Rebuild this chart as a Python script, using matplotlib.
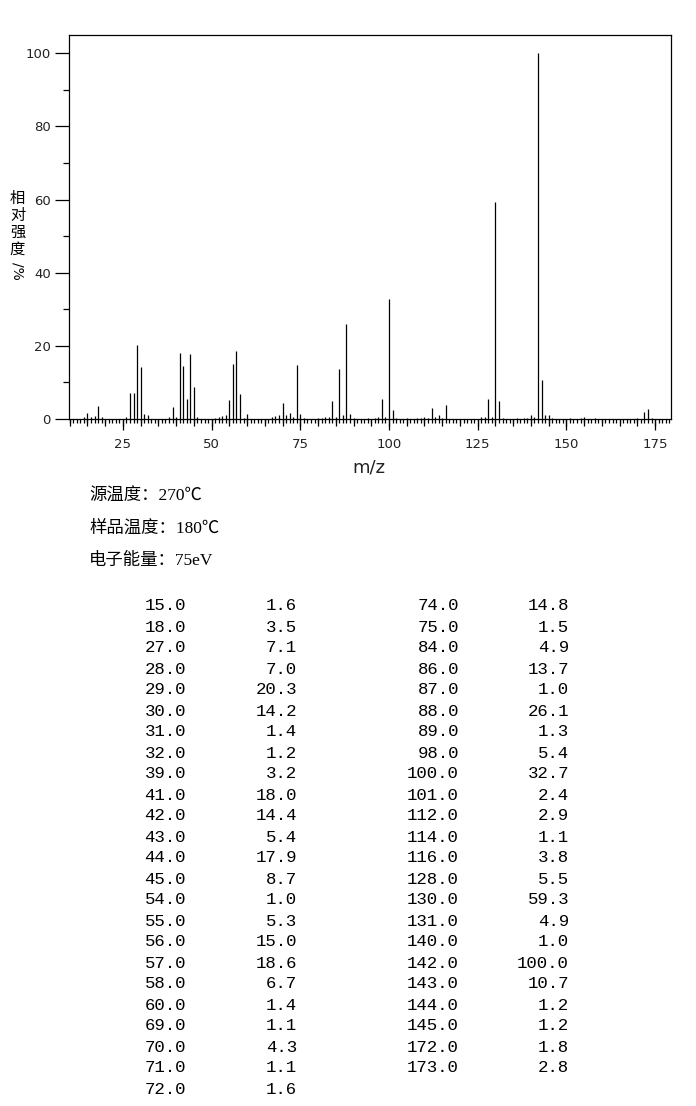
import matplotlib
matplotlib.use("Agg")
import matplotlib.pyplot as plt
from matplotlib.ticker import MultipleLocator, NullFormatter

# 표에 나온 피크 (m/z, 상대강도)
mz_left = [15.0, 18.0, 27.0, 28.0, 29.0, 30.0, 31.0, 32.0, 39.0, 41.0, 42.0, 43.0,
           44.0, 45.0, 54.0, 55.0, 56.0, 57.0, 58.0, 60.0, 69.0, 70.0, 71.0, 72.0]
int_left = [1.6, 3.5, 7.1, 7.0, 20.3, 14.2, 1.4, 1.2, 3.2, 18.0, 14.4, 5.4,
            17.9, 8.7, 1.0, 5.3, 15.0, 18.6, 6.7, 1.4, 1.1, 4.3, 1.1, 1.6]
mz_right = [74.0, 75.0, 84.0, 86.0, 87.0, 88.0, 89.0, 98.0, 100.0, 101.0, 112.0, 114.0,
            116.0, 128.0, 130.0, 131.0, 140.0, 142.0, 143.0, 144.0, 145.0, 172.0, 173.0]
int_right = [14.8, 1.5, 4.9, 13.7, 1.0, 26.1, 1.3, 5.4, 32.7, 2.4, 2.9, 1.1,
             3.8, 5.5, 59.3, 4.9, 1.0, 100.0, 10.7, 1.2, 1.2, 1.8, 2.8]

# 표에는 없는 1% 미만 작은 피크 (그림에서 대충 읽음)
mz_small = [14, 16, 17, 19, 26, 38, 40, 46, 51, 52, 53, 59, 67, 68, 73, 76, 80, 81, 82, 83,
            85, 90, 94, 96, 97, 99, 102, 105, 108, 109, 110, 111, 113, 115, 126, 127,
            129, 132, 136, 138, 139, 141, 146, 151, 154, 155, 158, 170, 174]
int_small = [0.5, 0.5, 0.9, 0.5, 0.5, 0.5, 0.5, 0.5, 0.3, 0.5, 0.7, 0.4, 0.5, 0.7, 0.5, 0.4,
             0.4, 0.4, 0.5, 0.5, 0.5, 0.4, 0.4, 0.4, 0.5, 0.5, 0.4, 0.3, 0.4, 0.4, 0.5,
             0.4, 0.5, 0.4, 0.5, 0.5, 0.5, 0.4, 0.4, 0.4, 0.3, 0.5, 0.4, 0.3, 0.3, 0.5,
             0.4, 0.4, 0.4]

info_lines = ["源温度：270℃", "样品温度：180℃", "电子能量：75eV"]

W, H = 696, 1106
fig = plt.figure(figsize=(W / 100, H / 100), dpi=100)
ax = fig.add_axes([69 / W, 1 - 419 / H, (670.7 - 69) / W, (419 - 35) / H])

mz_all = mz_left + mz_right + mz_small
int_all = int_left + int_right + int_small
ax.vlines(mz_all, 0, int_all, colors="black", linewidth=0.9)

ax.set_xlim(9.8, 179.4)
ax.set_ylim(0, 105)

for s in ax.spines.values():
    s.set_linewidth(0.9)
    s.set_color("black")

ax.xaxis.set_major_locator(MultipleLocator(25))
ax.xaxis.set_minor_locator(MultipleLocator(1))
ax.yaxis.set_major_locator(MultipleLocator(20))
ax.yaxis.set_minor_locator(MultipleLocator(10))
ax.tick_params(axis="x", which="major", length=8, width=0.9, pad=6, labelsize=9.5, labelcolor="#222222")
ax.tick_params(axis="x", which="minor", length=3, width=0.9)
ax.tick_params(axis="y", which="major", length=10, width=0.9, pad=3, labelsize=9.5, labelcolor="#222222")
ax.tick_params(axis="y", which="minor", length=4, width=0.9)
ax.set_xticks(range(25, 176, 25))

# 5 단위 중간 눈금
sec = ax.secondary_xaxis("bottom")
sec.xaxis.set_major_locator(MultipleLocator(5))
sec.xaxis.set_major_formatter(NullFormatter())
sec.tick_params(length=5, width=0.9)
sec.spines["bottom"].set_visible(False)

# y축 레이블 (세로 글자)
fig.text(17.5 / W, 1 - 224 / H, "相\n对\n强\n度", family="Noto Sans CJK SC", size=11,
         ha="center", va="center", linespacing=1.0)
fig.text(17.5 / W, 1 - 271 / H, "/%", family="DejaVu Sans", size=10,
         ha="center", va="center", rotation=270)
fig.text(369 / W, 1 - 467 / H, "m/z", family="DejaVu Sans", size=13, color="#222222",
         ha="center", va="center")

# 조건
for k, line in enumerate(info_lines):
    fig.text(89 / W, 1 - (497 + 32 * k) / H, line,
             family=["Liberation Serif", "Noto Sans CJK SC"], size=12.5,
             ha="left", va="center")

# 피크 표
mono = dict(family="Liberation Mono", size=12.5, ha="right", va="center")
for k in range(len(mz_left)):
    y = 1 - (606 + 21 * k) / H
    fig.text(186 / W, y, f"{mz_left[k]:.1f}", **mono)
    fig.text(297 / W, y, f"{int_left[k]:.1f}", **mono)
for k in range(len(mz_right)):
    y = 1 - (606 + 21 * k) / H
    fig.text(459 / W, y, f"{mz_right[k]:.1f}", **mono)
    fig.text(569 / W, y, f"{int_right[k]:.1f}", **mono)

fig.savefig("out.png", dpi=100)
